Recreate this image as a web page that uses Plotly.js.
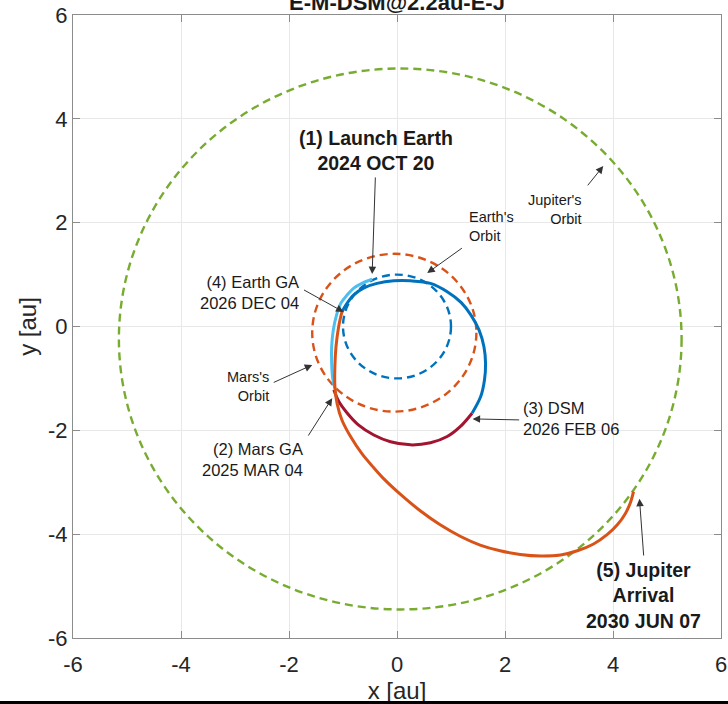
<!DOCTYPE html>
<html>
<head>
<meta charset="utf-8">
<script src="https://cdn.plot.ly/plotly-3.0.1.min.js"></script>
<style>
  html, body { margin: 0; padding: 0; background: #ffffff; }
  #chart { width: 728px; height: 704px; position: relative; }
  #bar { position: absolute; left: 0; top: 701px; width: 728px; height: 3px; background: #000; }
</style>
</head>
<body>
<div id="chart"></div>
<div id="bar"></div>
<script>
// ---------------- data (au) ----------------
const chartTitle = "E-M-DSM@2.2au-E-J";
const tickValues = [-6, -4, -2, 0, 2, 4, 6];
const tickLabels = ["-6", "-4", "-2", "0", "2", "4", "6"];

// planetary orbits: centre and radius
const orbitNames = ["Earth", "Mars", "Jupiter"];
const orbitCx = [0.00, -0.05, 0.06];
const orbitCy = [0.00, -0.12, -0.24];
const orbitR  = [1.00, 1.52, 5.21];

// leg 1: Launch Earth -> Mars GA
const leg1X = [-0.46, -0.65, -0.80, -0.92, -1.04, -1.12, -1.18, -1.21, -1.21, -1.19, -1.15];
const leg1Y = [0.91, 0.83, 0.74, 0.61, 0.45, 0.22, -0.07, -0.39, -0.71, -1.00, -1.19];

// leg 2: Mars GA -> DSM
const leg2X = [-1.17, -1.08, -0.92, -0.71, -0.43, -0.12, 0.25, 0.62, 0.93, 1.17, 1.39];
const leg2Y = [-1.22, -1.44, -1.67, -1.90, -2.09, -2.22, -2.28, -2.24, -2.12, -1.93, -1.67];

// leg 3: DSM -> Earth GA
const leg3X = [1.39, 1.55, 1.62, 1.64, 1.61, 1.52, 1.37, 1.19, 0.93, 0.62, 0.25, -0.06, -0.37, -0.62, -0.80, -0.95, -1.02];
const leg3Y = [-1.67, -1.35, -1.03, -0.71, -0.39, -0.07, 0.22, 0.46, 0.67, 0.83, 0.88, 0.88, 0.83, 0.74, 0.61, 0.41, 0.28];

// leg 4: Earth GA -> Jupiter arrival
const leg4X = [-1.02, -1.08, -1.13, -1.15, -1.15, -1.11, -1.02, -0.86, -0.65, -0.43, -0.22, 0.06, 0.43, 0.80, 1.17, 1.54, 1.91, 2.28, 2.66, 3.03, 3.34, 3.64, 3.89, 4.08, 4.23, 4.32, 4.38];
const leg4Y = [0.28, 0.00, -0.39, -0.77, -1.16, -1.48, -1.80, -2.12, -2.45, -2.72, -2.96, -3.23, -3.55, -3.82, -4.04, -4.21, -4.32, -4.39, -4.42, -4.40, -4.32, -4.19, -4.01, -3.82, -3.60, -3.40, -3.18];

// labels and arrow tip / tail points
const labelTexts = [
  "(1) Launch Earth<br>2024 OCT 20",
  "Earth's<br>Orbit",
  "Jupiter's<br>Orbit",
  "Mars's<br>Orbit",
  "(4) Earth GA<br>2026 DEC 04",
  "(2) Mars GA<br>2025 MAR 04",
  "(3) DSM<br>2026 FEB 06",
  "(5) Jupiter<br>Arrival<br>2030 JUN 07"
];
const arrowTipX  = [-0.46, 0.56, 3.82, -1.57, -0.99, -1.20, 1.40, 4.49];
const arrowTipY  = [1.01, 1.03, 3.09, -0.74, 0.28, -1.38, -1.78, -3.32];
const arrowTailX = [-0.40, 1.23, 3.51, -2.31, -1.75, -1.66, 2.29, 4.57];
const arrowTailY = [2.90, 1.53, 2.69, -1.09, 0.72, -2.13, -1.80, -4.44];
const labelX = [-0.38, 1.29, 3.47, -2.34, -1.77, -1.70, 2.29, 4.56];
const labelY = [3.39, 1.92, 2.25, -1.16, 0.66, -2.57, -1.78, -5.19];

// ---------------- styling ----------------
const FONT = "'Liberation Sans', Arial, Helvetica, sans-serif";
const orbitColors = ["#0072BD", "#D95319", "#77AC30"];
const labelStyle = [
  {size: 19.5, bold: true,  xanchor: "center", align: "center"},
  {size: 14.5, bold: false, xanchor: "left",   align: "left"},
  {size: 14.5, bold: false, xanchor: "right",  align: "right"},
  {size: 14.5, bold: false, xanchor: "right",  align: "right"},
  {size: 16.5, bold: false, xanchor: "right",  align: "right"},
  {size: 16.5, bold: false, xanchor: "right",  align: "right"},
  {size: 16.5, bold: false, xanchor: "left",   align: "left"},
  {size: 19.5, bold: true,  xanchor: "center", align: "center"}
];

const shapes = orbitNames.map((n, i) => ({
  type: "circle", xref: "x", yref: "y", layer: "between",
  x0: orbitCx[i] - orbitR[i], x1: orbitCx[i] + orbitR[i],
  y0: orbitCy[i] - orbitR[i], y1: orbitCy[i] + orbitR[i],
  line: {color: orbitColors[i], width: 2.4, dash: "8px,5px"}
}));

function leg(x, y, color, name) {
  return {x: x, y: y, type: "scatter", mode: "lines", name: name,
          line: {color: color, width: 3, shape: "spline", smoothing: 1},
          hoverinfo: "skip"};
}
const traces = [
  leg(leg1X, leg1Y, "#4DBEEE", "Earth to Mars"),
  leg(leg2X, leg2Y, "#A2142F", "Mars to DSM"),
  leg(leg3X, leg3Y, "#0072BD", "DSM to Earth"),
  leg(leg4X, leg4Y, "#D95319", "Earth to Jupiter")
];

const annotations = [];
labelTexts.forEach((t, i) => {
  annotations.push({
    xref: "x", yref: "y", x: arrowTipX[i], y: arrowTipY[i],
    axref: "x", ayref: "y", ax: arrowTailX[i], ay: arrowTailY[i],
    text: "", showarrow: true, arrowhead: 2, arrowsize: 1.5,
    arrowwidth: 1, arrowcolor: "#333333", standoff: 0, startstandoff: 0
  });
  const s = labelStyle[i];
  annotations.push({
    xref: "x", yref: "y", x: labelX[i], y: labelY[i],
    text: s.bold ? "<b>" + t + "</b>" : t, showarrow: false,
    xanchor: s.xanchor, yanchor: "middle", align: s.align,
    font: {family: FONT, size: s.size, color: "#1a1a1a"}
  });
});

const axisCommon = {
  range: [-6, 6], tickmode: "array", tickvals: tickValues, ticktext: tickLabels,
  showgrid: true, gridcolor: "#e8e8e8", gridwidth: 1,
  zeroline: false, showline: true, linecolor: "#8c8c8c", linewidth: 1,
  mirror: "ticks", ticks: "inside", ticklen: 7, tickcolor: "#8c8c8c",
  tickfont: {family: FONT, size: 22, color: "#262626"},
  fixedrange: true
};

const layout = {
  width: 728, height: 704,
  margin: {l: 73, r: 7, t: 15, b: 66, pad: 0},
  paper_bgcolor: "#ffffff", plot_bgcolor: "#ffffff",
  showlegend: false,
  title: {text: "<b>" + chartTitle + "</b>", font: {family: FONT, size: 22, color: "#1a1a1a"},
          x: 0.5, xref: "paper", y: 0.986, yref: "container", yanchor: "bottom"},
  xaxis: Object.assign({}, axisCommon, {
    ticklabelstandoff: 7,
    title: {text: "x [au]", font: {family: FONT, size: 24, color: "#262626"}, standoff: 12}
  }),
  yaxis: Object.assign({}, axisCommon, {
    title: {text: "y [au]", font: {family: FONT, size: 24, color: "#262626"}, standoff: 4}
  }),
  shapes: shapes,
  annotations: annotations
};

Plotly.newPlot("chart", traces, layout, {staticPlot: true, displayModeBar: false});
</script>
</body>
</html>
